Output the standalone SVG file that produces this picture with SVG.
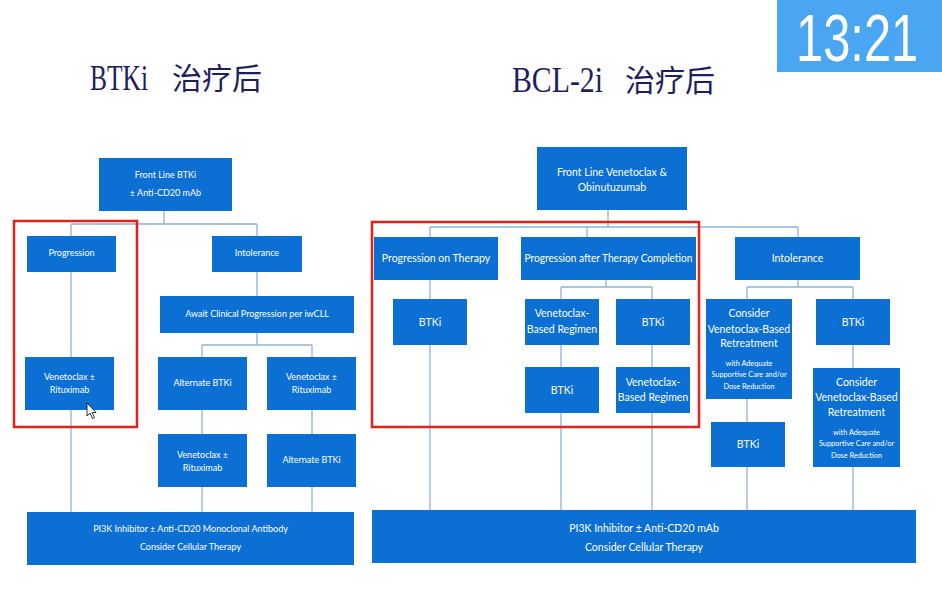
<svg xmlns="http://www.w3.org/2000/svg" width="942" height="604" viewBox="0 0 942 604">
<style>
.b{fill:#0b6fd3}
.t{fill:#ffffff;font-family:Lato,"Open Sans",sans-serif;text-anchor:middle}
.l{font-size:9px}
.r{font-size:10.5px}
.big{font-size:10.5px}
.sm{font-size:7.3px}
.ttl{fill:#1e1e5c}
.red{fill:none;stroke:#e0211c;stroke-width:2.5}
#connectors path{fill:none;stroke:#8fb3d8;stroke-width:1.3}
</style>
<rect width="942" height="604" fill="#ffffff"/>
<g id="titles">
<text class="ttl" x="90" y="90" font-family="Liberation Serif,serif" font-size="36" textLength="58" lengthAdjust="spacingAndGlyphs">BTKi</text>
<text class="ttl" x="172" y="89" font-family="Noto Sans CJK SC,sans-serif" font-size="30">治疗后</text>
<text class="ttl" x="512" y="92" font-family="Liberation Serif,serif" font-size="36" textLength="91" lengthAdjust="spacingAndGlyphs">BCL-2i</text>
<text class="ttl" x="625" y="91" font-family="Noto Sans CJK SC,sans-serif" font-size="30">治疗后</text>
</g>
<g id="timer">
<rect x="777" y="0" width="165" height="72" fill="#4aa6f2"/>
<text transform="translate(796,60.5) scale(0.74,1)" x="0" y="0" fill="#ffffff" font-family="Liberation Sans,Arial,sans-serif" font-size="66">13:21</text>
</g>
<g id="connectors">
<path d="M164 211V224M71 224H257M71 224V236M257 224V236M71 272V357M71 410V512M257 272V296M257 333V345M202 345H312M202 345V357M312 345V357M202 410V434M312 410V434M202 487V512M312 487V512"/>
<path d="M608 210V227M430 227H798M430 227V237M587 227V237M798 227V237M430 280V299M430 345V510M606 280V287M561 287H652M561 287V299M652 287V299M561 345V367M652 345V367M561 413V510M652 413V510M798 280V287M747 287H853M747 287V299M853 287V299M747 399V422M747 467V510M853 345V368M853 467V510"/>
</g>
<g id="l-frontline"><rect class="b" x="99" y="158" width="133" height="53"/><text class="t l" x="165.5" y="178">Front Line BTKi</text><text class="t l" x="165.5" y="196">± Anti-CD20 mAb</text></g>
<g id="l-progression"><rect class="b" x="27" y="236" width="89" height="36"/><text class="t l" x="71.5" y="256">Progression</text></g>
<g id="l-intolerance"><rect class="b" x="212" y="236" width="90" height="36"/><text class="t l" x="257" y="256">Intolerance</text></g>
<g id="l-await"><rect class="b" x="160" y="296" width="194" height="37"/><text class="t l" x="257" y="317">Await Clinical Progression per iwCLL</text></g>
<g id="l-ven1"><rect class="b" x="25" y="357" width="89" height="53"/><text class="t l" x="69.5" y="380">Venetoclax ±</text><text class="t l" x="69.5" y="393">Rituximab</text></g>
<g id="l-altbtki1"><rect class="b" x="158" y="357" width="89" height="53"/><text class="t l" x="202.5" y="386">Alternate BTKi</text></g>
<g id="l-ven2"><rect class="b" x="267" y="357" width="89" height="53"/><text class="t l" x="311.5" y="380">Venetoclax ±</text><text class="t l" x="311.5" y="393">Rituximab</text></g>
<g id="l-ven3"><rect class="b" x="158" y="434" width="89" height="53"/><text class="t l" x="202.5" y="458">Venetoclax ±</text><text class="t l" x="202.5" y="471">Rituximab</text></g>
<g id="l-altbtki2"><rect class="b" x="267" y="434" width="89" height="53"/><text class="t l" x="311.5" y="463">Alternate BTKi</text></g>
<g id="l-bottom"><rect class="b" x="27" y="512" width="327" height="53"/><text class="t l" x="190.5" y="532">PI3K Inhibitor ± Anti-CD20 Monoclonal Antibody</text><text class="t l" x="190.5" y="550">Consider Cellular Therapy</text></g>
<g id="r-frontline"><rect class="b" x="537" y="147" width="150" height="63"/><text class="t r" x="612" y="176">Front Line Venetoclax &amp;</text><text class="t r" x="612" y="191">Obinutuzumab</text></g>
<g id="r-progon"><rect class="b" x="374" y="237" width="124" height="43"/><text class="t r" x="436" y="262">Progression on Therapy</text></g>
<g id="r-progafter"><rect class="b" x="521" y="237" width="175" height="43"/><text class="t r" x="608.5" y="262" textLength="168" lengthAdjust="spacingAndGlyphs">Progression after Therapy Completion</text></g>
<g id="r-intolerance"><rect class="b" x="735" y="237" width="125" height="43"/><text class="t r" x="797.5" y="262">Intolerance</text></g>
<g id="r-btki1"><rect class="b" x="393" y="299" width="74" height="46"/><text class="t r" x="430" y="326">BTKi</text></g>
<g id="r-vbr1"><rect class="b" x="525" y="299" width="74" height="46"/><text class="t r" x="562" y="317">Venetoclax-</text><text class="t r" x="562" y="333">Based Regimen</text></g>
<g id="r-btki2"><rect class="b" x="616" y="299" width="74" height="46"/><text class="t r" x="653" y="326">BTKi</text></g>
<g id="r-btki3"><rect class="b" x="525" y="367" width="74" height="46"/><text class="t r" x="562" y="394">BTKi</text></g>
<g id="r-vbr2"><rect class="b" x="616" y="367" width="74" height="46"/><text class="t r" x="653" y="386">Venetoclax-</text><text class="t r" x="653" y="401">Based Regimen</text></g>
<g id="r-consider1"><rect class="b" x="706" y="299" width="86" height="100"/><text class="t big" x="749" y="317">Consider</text><text class="t big" x="749" y="333">Venetoclax-Based</text><text class="t big" x="749" y="347">Retreatment</text><text class="t sm" x="749" y="366">with Adequate</text><text class="t sm" x="749" y="377">Supportive Care and/or</text><text class="t sm" x="749" y="389">Dose Reduction</text></g>
<g id="r-btki4"><rect class="b" x="816" y="299" width="74" height="46"/><text class="t r" x="853" y="326">BTKi</text></g>
<g id="r-btki5"><rect class="b" x="711" y="422" width="74" height="45"/><text class="t r" x="748" y="448">BTKi</text></g>
<g id="r-consider2"><rect class="b" x="813" y="368" width="87" height="99"/><text class="t big" x="856.5" y="386">Consider</text><text class="t big" x="856.5" y="401">Venetoclax-Based</text><text class="t big" x="856.5" y="416">Retreatment</text><text class="t sm" x="856.5" y="435">with Adequate</text><text class="t sm" x="856.5" y="446">Supportive Care and/or</text><text class="t sm" x="856.5" y="458">Dose Reduction</text></g>
<g id="r-bottom"><rect class="b" x="372" y="510" width="544" height="53"/><text class="t r" x="644" y="532">PI3K Inhibitor ± Anti-CD20 mAb</text><text class="t r" x="644" y="551">Consider Cellular Therapy</text></g>
<g id="highlights">
<rect class="red" x="14" y="221" width="123" height="206"/>
<rect class="red" x="372" y="222" width="327" height="205"/>
</g>
<path d="M87 403L87 416L90 413L92.5 418.5L94.5 417.5L92.2 412.5L96 412.5Z" fill="#ffffff" stroke="#000000" stroke-width="0.8"/>
</svg>
